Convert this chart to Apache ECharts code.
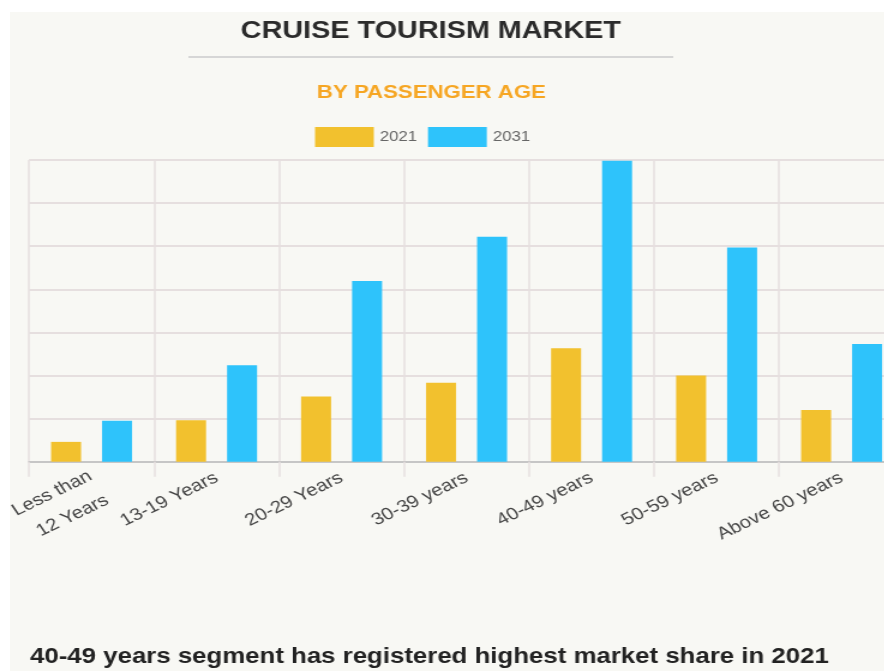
<!DOCTYPE html>
<html><head><meta charset="utf-8">
<script src="https://cdn.jsdelivr.net/npm/echarts@6/dist/echarts.min.js"></script>
<style>
html,body{margin:0;padding:0;background:#fff;width:884px;height:671px;overflow:hidden;position:relative;}
#panel{position:absolute;left:10px;top:12px;right:0;bottom:0;background:#f8f8f4;}
#chart{position:absolute;left:0;top:0;width:760px;height:671px;transform:scaleX(1.2);transform-origin:0 0;}
</style></head><body>
<div id="panel"></div><div id="chart"></div>
<script>
const categories = ['Less than\n12 Years', '13-19 Years', '20-29 Years', '30-39 years', '40-49 years', '50-59 years', 'Above 60 years'];
const values2021 = [0.46, 0.96, 1.51, 1.83, 2.63, 2.0, 1.2];
const values2031 = [0.95, 2.24, 4.19, 5.22, 6.98, 4.97, 2.73];
const seriesNames = ['2021', '2031'];
const titleText = 'CRUISE TOURISM MARKET';
const subtitleText = 'BY PASSENGER AGE';
const footnoteText = '40-49 years segment has registered highest market share in 2021';

const FONT = '"Liberation Sans", Arial, sans-serif';
const gridColor = '#e6dfdf';

const chart = echarts.init(document.getElementById('chart'), null, {renderer: 'canvas'});
chart.setOption({
  animation: false,
  backgroundColor: 'transparent',
  textStyle: {fontFamily: FONT},
  graphic: [
    {type: 'text', x: 359, y: 31, style: {text: titleText, font: 'bold 24px ' + FONT, fill: '#2b2b2b', align: 'center', verticalAlign: 'middle'}},
    {type: 'line', shape: {x1: 157, y1: 57, x2: 561, y2: 57}, style: {stroke: '#d6d6d6', lineWidth: 2}},
    {type: 'text', x: 359.5, y: 93, style: {text: subtitleText, font: 'bold 18.5px ' + FONT, fill: '#f6a623', align: 'center', verticalAlign: 'middle'}},
    {type: 'text', x: 25, y: 657, style: {text: footnoteText, font: 'bold 21.5px ' + FONT, fill: '#222222', align: 'left', verticalAlign: 'middle'}}
  ],
  legend: {
    data: seriesNames,
    left: 262.5, top: 127, padding: 0,
    itemWidth: 49, itemHeight: 20, itemGap: 9,
    icon: 'rect',
    textStyle: {fontSize: 14, color: '#666', fontFamily: FONT}
  },
  grid: {left: 24.2, top: 160, width: 729.2, height: 301.7, containLabel: false, outerBoundsMode: 'none'},
  xAxis: {
    type: 'category',
    data: categories,
    axisLine: {lineStyle: {color: '#c6c6c6', width: 2}},
    axisTick: {show: true, length: 15, lineStyle: {color: gridColor, width: 1.5}},
    axisLabel: {
      rotate: 30, fontSize: 17, lineHeight: 28, color: '#444', fontFamily: FONT, margin: 15, interval: 0,
      formatter: function (v) { return v.indexOf('\n') >= 0 ? '{sp| }\n' + v : v; },
      rich: {sp: {fontSize: 4, lineHeight: 24}}
    },
    splitLine: {show: true, lineStyle: {color: gridColor, width: 1.5}}
  },
  yAxis: {
    type: 'value', min: 0, max: 7, interval: 1,
    axisLabel: {show: false}, axisLine: {show: false}, axisTick: {show: false},
    splitLine: {show: true, lineStyle: {color: gridColor, width: 2}}
  },
  series: [
    {name: seriesNames[0], type: 'bar', data: values2021, barWidth: 25, barGap: '70%', itemStyle: {color: '#f2c12e'}},
    {name: seriesNames[1], type: 'bar', data: values2031, barWidth: 25, barGap: '70%', itemStyle: {color: '#2ec3fb'}}
  ]
});
</script>
</body></html>
